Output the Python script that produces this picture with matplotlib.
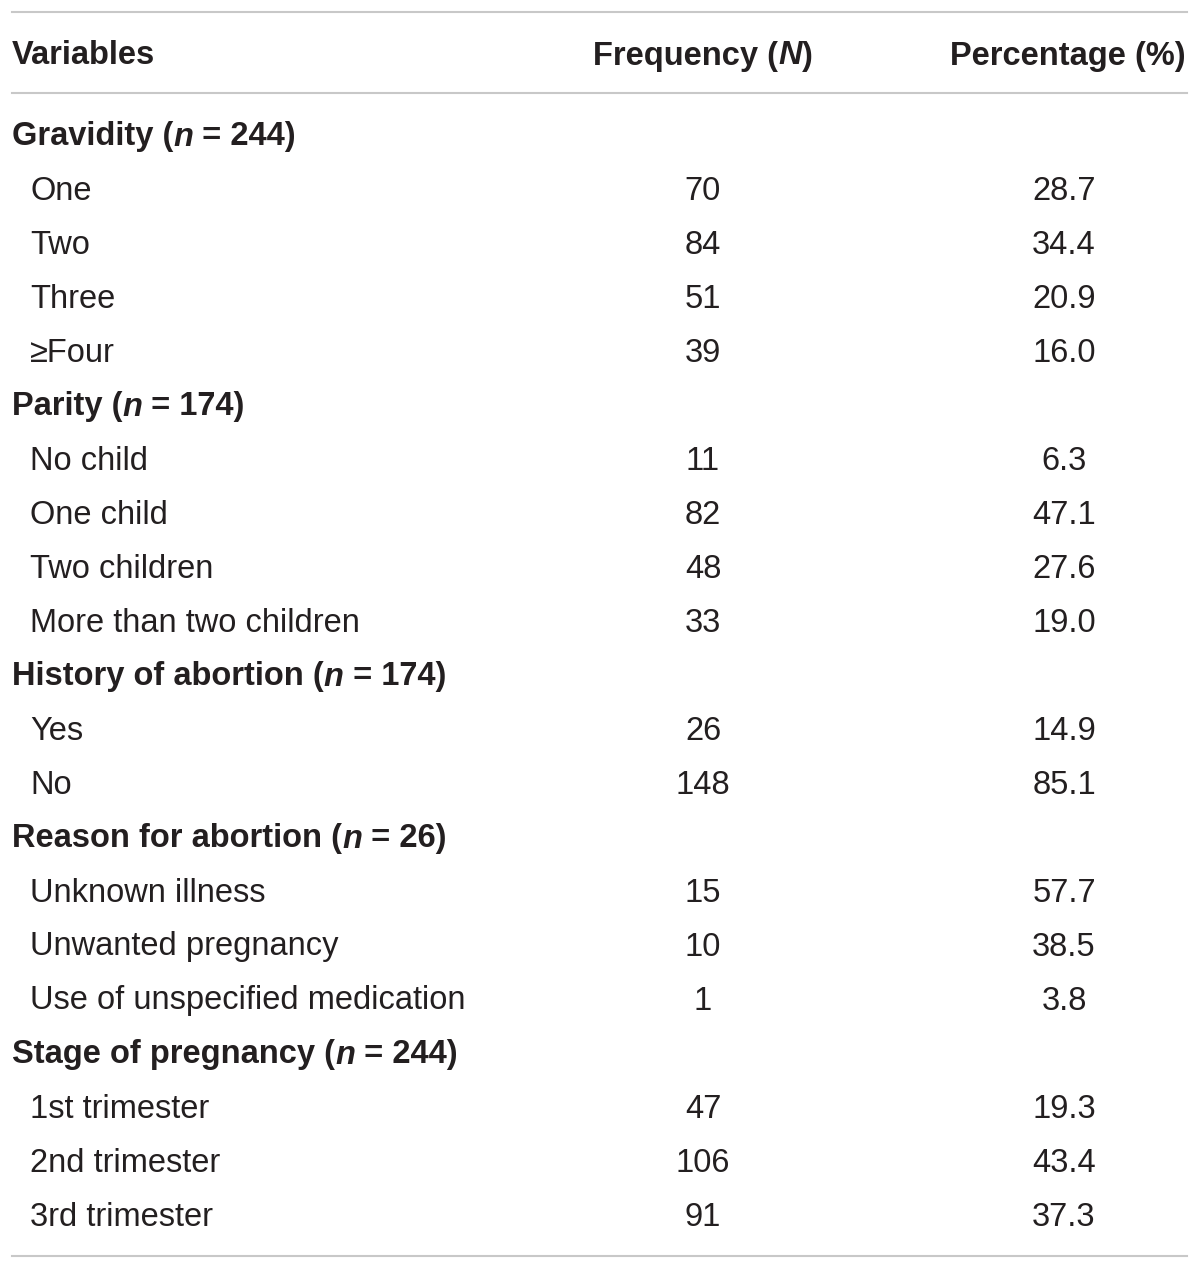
import matplotlib.pyplot as plt

plt.rcParams['font.family'] = ['Liberation Sans', 'DejaVu Sans']

# table content
groups = ["Gravidity", "Parity", "History of abortion", "Reason for abortion", "Stage of pregnancy"]
group_n = [244, 174, 174, 26, 244]
group_items = [
    ["One", "Two", "Three", "\u2265Four"],
    ["No child", "One child", "Two children", "More than two children"],
    ["Yes", "No"],
    ["Unknown illness", "Unwanted pregnancy", "Use of unspecified medication"],
    ["1st trimester", "2nd trimester", "3rd trimester"],
]
group_freq = [
    [70, 84, 51, 39],
    [11, 82, 48, 33],
    [26, 148],
    [15, 10, 1],
    [47, 106, 91],
]
group_pct = [
    [28.7, 34.4, 20.9, 16.0],
    [6.3, 47.1, 27.6, 19.0],
    [14.9, 85.1],
    [57.7, 38.5, 3.8],
    [19.3, 43.4, 37.3],
]

W, H = 1200, 1270
fig = plt.figure(figsize=(W / 100, H / 100), dpi=100)
ax = fig.add_axes([0, 0, 1, 1])
ax.set_xlim(0, W)
ax.set_ylim(H, 0)
ax.axis("off")

txt_col = "#231f20"
line_col = "#c8c8c8"
fs = 23.5
renderer = fig.canvas.get_renderer()


def pieces(x, y, parts, ha="left"):
    # parts: list of (text, style); draw them side by side
    objs = []
    for s, st in parts:
        t = ax.text(0, y, s, fontsize=fs, fontweight="bold", fontstyle=st,
                    color=txt_col, va="center", ha="left")
        objs.append(t)
    widths = []
    for t in objs:
        bb = t.get_window_extent(renderer=renderer)
        widths.append(bb.width)
    total = sum(widths)
    if ha == "center":
        x0 = x - total / 2
    elif ha == "right":
        x0 = x - total
    else:
        x0 = x
    for t, w in zip(objs, widths):
        t.set_x(x0)
        x0 += w


x_lab, x_item, x_freq, x_pct = 12, 30, 703, 1064
row_h = 54
dy = 4

# header
ax.plot([12, 1187], [12, 12], color=line_col, lw=1.5)
pieces(12, 52 + dy, [("Variables", "normal")])
pieces(703, 52 + dy, [("Frequency (", "normal"), ("N", "italic"), (")", "normal")], ha="center")
pieces(1186, 52 + dy, [("Percentage (%)", "normal")], ha="right")
ax.plot([12, 1187], [93, 93], color=line_col, lw=1.5)

y = 133
for g, n, items, fr, pc in zip(groups, group_n, group_items, group_freq, group_pct):
    pieces(x_lab, y + dy, [(g + " (", "normal"), ("n", "italic"), (" = %d)" % n, "normal")])
    y += row_h
    for it, f, p in zip(items, fr, pc):
        ax.text(x_item, y + dy, it, fontsize=fs, color=txt_col, va="center", ha="left")
        ax.text(x_freq, y + dy, str(f), fontsize=fs, color=txt_col, va="center", ha="center")
        ax.text(x_pct, y + dy, "%.1f" % p, fontsize=fs, color=txt_col, va="center", ha="center")
        y += row_h

ax.plot([12, 1187], [1256, 1256], color=line_col, lw=1.5)

fig.savefig("out.png", dpi=100, facecolor="white")
